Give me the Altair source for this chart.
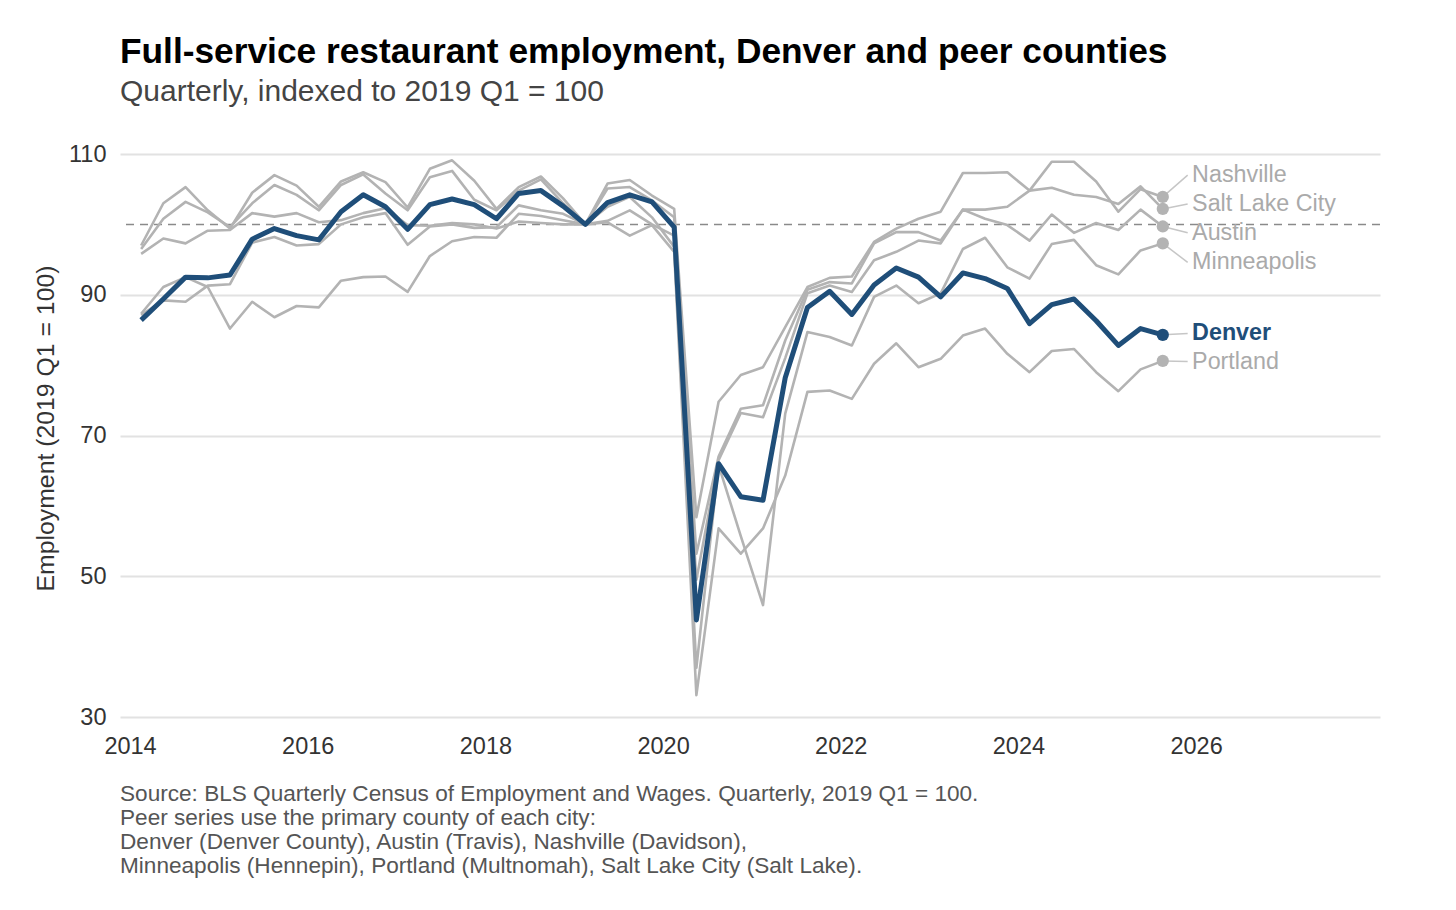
import altair as alt
import pandas as pd

# ---------------- data ----------------
quarters = [f"{y} Q{q}" for y in range(2014, 2026) for q in range(1, 5)][:47]

denver = [86.4, 89.4, 92.5, 92.4, 92.8, 97.9, 99.4, 98.4, 97.8, 101.8, 104.2, 102.5,
          99.3, 102.8, 103.6, 102.8, 100.8, 104.4, 104.8, 102.6, 100.0, 103.1, 104.2, 103.2,
          99.6, 43.8, 66.0, 61.3, 60.8, 78.2, 88.2, 90.5, 87.2, 91.4, 93.8, 92.5,
          89.7, 93.1, 92.3, 90.9, 85.9, 88.6, 89.4, 86.3, 82.8, 85.2, 84.3]

austin = [95.8, 98.0, 97.3, 99.1, 99.2, 101.6, 101.1, 101.6, 100.3, 100.6, 101.6, 102.3,
          99.9, 99.8, 100.2, 100.0, 99.4, 100.4, 100.2, 100.0, 100.0, 100.5, 102.0, 100.0,
          98.4, 49.5, 66.5, 73.2, 72.6, 81.0, 90.2, 91.3, 90.4, 94.9, 96.1, 97.7,
          97.3, 102.1, 100.8, 99.9, 97.7, 101.4, 98.8, 100.2, 99.2, 102.1, 99.7]

nashville = [96.5, 100.8, 103.2, 101.7, 99.6, 103.0, 105.6, 104.2, 102.0, 105.6, 107.1, 104.4,
             102.0, 106.7, 107.6, 103.5, 102.0, 104.8, 106.4, 103.0, 100.0, 105.1, 105.3, 103.4,
             101.0, 53.2, 67.0, 73.8, 74.3, 83.5, 90.7, 91.8, 91.6, 97.3, 98.9, 98.9,
             97.7, 102.1, 102.1, 102.5, 104.8, 108.9, 108.9, 106.1, 101.8, 105.0, 103.9]

salt_lake = [97.0, 103.0, 105.3, 102.0, 99.4, 104.5, 107.0, 105.5, 102.5, 106.1, 107.4, 106.0,
             102.4, 107.9, 109.1, 106.2, 102.2, 105.3, 106.8, 103.7, 100.0, 105.8, 106.3, 104.1,
             102.2, 58.4, 74.8, 78.6, 79.7, 85.4, 91.1, 92.4, 92.6, 97.5, 99.4, 100.8,
             101.8, 107.3, 107.3, 107.4, 104.8, 105.2, 104.2, 103.9, 102.9, 105.4, 102.2]

minneapolis = [87.1, 89.2, 89.0, 91.3, 91.5, 97.4, 98.2, 97.0, 97.2, 100.0, 101.0, 101.6,
               97.1, 99.7, 100.0, 99.5, 99.6, 102.7, 102.0, 101.5, 100.0, 102.5, 103.9, 101.0,
               96.8, 37.0, 65.8, 55.7, 45.9, 73.1, 84.7, 84.0, 82.8, 89.7, 91.3, 88.8,
               90.2, 96.5, 98.1, 93.9, 92.3, 97.2, 97.8, 94.2, 92.9, 96.3, 97.3]

portland = [87.3, 91.1, 92.5, 91.1, 85.2, 89.0, 86.8, 88.4, 88.2, 92.0, 92.5, 92.6,
            90.4, 95.5, 97.6, 98.2, 98.1, 101.5, 101.2, 100.6, 100.0, 100.3, 98.4, 99.9,
            96.1, 33.1, 56.8, 53.2, 56.8, 64.3, 76.2, 76.4, 75.2, 80.2, 83.1, 79.7,
            80.9, 84.2, 85.2, 81.6, 79.0, 82.0, 82.3, 79.0, 76.3, 79.4, 80.6]

peers = {
    "Nashville": nashville,
    "Salt Lake City": salt_lake,
    "Austin": austin,
    "Minneapolis": minneapolis,
    "Portland": portland,
}

# label positions (index values the end labels sit at)
label_names = ["Nashville", "Salt Lake City", "Austin", "Minneapolis", "Denver", "Portland"]
label_values = [107.0, 102.9, 98.8, 94.6, 84.5, 80.5]

year_ticks = [2014, 2016, 2018, 2020, 2022, 2024, 2026]
y_ticks = [30, 50, 70, 90, 110]

title_text = "Full-service restaurant employment, Denver and peer counties"
subtitle_text = "Quarterly, indexed to 2019 Q1 = 100"
footer_text = ("Source: BLS Quarterly Census of Employment and Wages. Quarterly, 2019 Q1 = 100.\n"
               "Peer series use the primary county of each city:\n"
               "Denver (Denver County), Austin (Travis), Nashville (Davidson),\n"
               "Minneapolis (Hennepin), Portland (Multnomah), Salt Lake City (Salt Lake).")

# ---------------- build tables ----------------
def qpos(label):
    y, q = label.split(" Q")
    return int(y) + (int(q) - 0.5) / 4.0

xpos = [qpos(q) for q in quarters]

rows = []
for city, vals in peers.items():
    for q, x, v in zip(quarters, xpos, vals):
        rows.append({"city": city, "quarter": q, "x": x, "v": v})
gray_df = pd.DataFrame(rows)
den_df = pd.DataFrame({"city": "Denver", "quarter": quarters, "x": xpos, "v": denver})

last_x = xpos[-1]
end_vals = {c: v[-1] for c, v in peers.items()}
end_vals["Denver"] = denver[-1]
lab_df = pd.DataFrame({
    "city": label_names,
    "lv": label_values,
    "ev": [end_vals[c] for c in label_names],
})
lab_df["x0"] = last_x
lab_df["x1"] = last_x + 0.28
lab_df["xl"] = last_x + 0.33
lab_df["is_den"] = lab_df["city"] == "Denver"

ref_df = pd.DataFrame({"v": [100]})
foot_df = pd.DataFrame({"t": [footer_text]})

FONT = "Liberation Sans"
GRAY = "#b3b3b3"
NAVY = "#1f4e79"

xscale = alt.Scale(domain=[2013.887, 2028.07], nice=False, zero=False)
yscale = alt.Scale(domain=[30, 110], nice=False, zero=False)
xaxis = alt.Axis(values=year_ticks, format="d", grid=False, ticks=False, domain=False,
                 labelFontSize=23.5, labelColor="#333333", labelPadding=17, labelFont=FONT,
                 title=None)
yaxis = alt.Axis(values=y_ticks, grid=True, gridColor="#e2e2e2", gridWidth=2, ticks=False,
                 domain=False, labelFontSize=23.5, labelColor="#333333", labelPadding=14,
                 labelFont=FONT, title="Employment (2019 Q1 = 100)", titleFontSize=24.8,
                 titleFontWeight="normal", titleColor="#333333", titleFont=FONT,
                 titlePadding=10, titleY=274)


def X(field):
    return alt.X(f"{field}:Q", scale=xscale, axis=xaxis)


def Y(field):
    return alt.Y(f"{field}:Q", scale=yscale, axis=yaxis)


ref = alt.Chart(ref_df).mark_rule(color="#8a8a8a", strokeDash=[8, 6], strokeWidth=1.5).encode(
    y=Y("v"))

gray_lines = alt.Chart(gray_df).mark_line(color=GRAY, strokeWidth=2.6, strokeJoin="round").encode(
    x=X("x"), y=Y("v"), detail="city:N")

den_line = alt.Chart(den_df).mark_line(color=NAVY, strokeWidth=5, strokeJoin="round").encode(
    x=X("x"), y=Y("v"))

leaders = alt.Chart(lab_df).mark_rule(color="#c6c6c6", strokeWidth=1.5).encode(
    x=X("x0"), x2="x1:Q", y=Y("ev"), y2="lv:Q")

gray_dots = alt.Chart(lab_df).transform_filter("!datum.is_den").mark_point(
    filled=True, size=150, color=GRAY, opacity=1).encode(x=X("x0"), y=Y("ev"))

den_dot = alt.Chart(lab_df).transform_filter("datum.is_den").mark_point(
    filled=True, size=150, color=NAVY, opacity=1).encode(x=X("x0"), y=Y("ev"))

gray_labels = alt.Chart(lab_df).transform_filter("!datum.is_den").mark_text(
    align="left", baseline="middle", fontSize=23.3, font=FONT, color="#aaaaaa").encode(
    x=X("xl"), y=Y("lv"), text="city:N")

den_label = alt.Chart(lab_df).transform_filter("datum.is_den").mark_text(
    align="left", baseline="middle", fontSize=23.3, font=FONT, fontWeight="bold", color=NAVY).encode(
    x=X("xl"), y=Y("lv"), text="city:N")

footer = alt.Chart(foot_df).mark_text(
    align="left", baseline="alphabetic", fontSize=22.6, font=FONT, color="#555555",
    lineBreak="\n", lineHeight=24).encode(
    x=alt.value(0), y=alt.value(647), text="t:N")

chart = alt.layer(
    ref, gray_lines, den_line, leaders, gray_dots, den_dot, gray_labels, den_label, footer
).properties(
    width=1260,
    height=563,
    background="white",
    padding={"left": 112, "top": 146, "right": 68, "bottom": 180},
    autosize=alt.AutoSizeParams(type="none"),
    title=alt.TitleParams(
        text=title_text, subtitle=subtitle_text, anchor="start", frame="group",
        font=FONT, fontSize=35.3, fontWeight="bold", color="#000000",
        subtitleFont=FONT, subtitleFontSize=30, subtitleColor="#444444",
        subtitlePadding=7, offset=35,
    ),
).configure_view(strokeWidth=0, stroke="transparent")

chart.save("out.html", embed_options={"renderer": "svg", "actions": False})
